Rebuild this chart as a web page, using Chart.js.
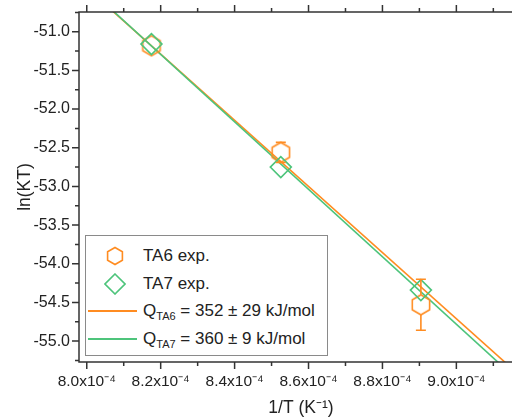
<!DOCTYPE html>
<html>
<head>
<meta charset="utf-8">
<script src="https://cdn.jsdelivr.net/npm/chart.js@4.4.0/dist/chart.umd.min.js"></script>
<style>
  body { margin: 0; overflow: hidden; background: #fff; font-family: "Liberation Sans", Arial, sans-serif; }
  #wrap { position: relative; width: 512px; height: 419px; overflow: hidden; }
  #arrhenius { position: absolute; left: 0; top: 0; }
  #legend { position: absolute; left: 85px; top: 235px; width: 241px; height: 119px;
            border: 1px solid #8a8a8a; background: #fff; color: #222; font-size: 17px; }
  .row { position: absolute; left: 0; height: 24px; line-height: 24px; white-space: nowrap; }
  .row .sym { position: absolute; left: 19px; top: 2px; width: 20px; height: 20px; }
  .row .ln { position: absolute; left: 2px; top: 11px; width: 49px; height: 2px; }
  .row .txt { position: absolute; left: 57px; top: 0; }
  sub { font-size: 11px; vertical-align: -4px; line-height: 0; }
</style>
</head>
<body>
<div id="wrap">
  <canvas id="arrhenius" width="535" height="419"></canvas>
  <div id="legend">
    <div class="row" style="top:8px">
      <svg class="sym" viewBox="0 0 20 20"><polygon points="10,1.5 17.4,5.75 17.4,14.25 10,18.5 2.6,14.25 2.6,5.75" fill="none" stroke="#ff8c21" stroke-width="1.6"/></svg>
      <span class="txt">TA6 exp.</span>
    </div>
    <div class="row" style="top:36px">
      <svg class="sym" viewBox="0 0 22 22" style="left:18px;width:22px;height:22px;top:1px"><polygon points="11,1 21,11 11,21 1,11" fill="none" stroke="#4dc47b" stroke-width="1.6"/></svg>
      <span class="txt">TA7 exp.</span>
    </div>
    <div class="row" style="top:63px">
      <span class="ln" style="background:#ff8c21"></span>
      <span class="txt">Q<sub>TA6</sub> = 352 ± 29 kJ/mol</span>
    </div>
    <div class="row" style="top:91px">
      <span class="ln" style="background:#4dc47b"></span>
      <span class="txt">Q<sub>TA7</sub> = 360 ± 9 kJ/mol</span>
    </div>
  </div>
</div>
<script>
// valeurs
const invT = [8.175e-4, 8.525e-4, 8.904e-4];
const lnKT_TA6 = [-51.18, -52.56, -54.53];
const errTA6 = [0.03, 0.13, 0.33];
const lnKT_TA7 = [-51.16, -52.75, -54.34];
const errTA7 = [0.03, 0.05, 0.13];

// droites d'ajustement (extrémités)
const fitX = [7.9e-4, 9.2e-4];
const fitTA6 = [-50.006, -55.566];
const fitTA7 = [-49.984, -55.654];

const orange = '#ff8c21';
const green = '#4dc47b';
const axisColor = '#333';

function hexagon(color, r) {
  const c = document.createElement('canvas');
  const s = Math.ceil(2 * r + 4);
  c.width = s; c.height = s;
  const g = c.getContext('2d');
  g.strokeStyle = color;
  g.lineWidth = 1.6;
  g.beginPath();
  for (let i = 0; i < 6; i++) {
    const a = -Math.PI / 2 + i * Math.PI / 3;
    const px = s / 2 + r * Math.cos(a), py = s / 2 + r * Math.sin(a);
    if (i) g.lineTo(px, py); else g.moveTo(px, py);
  }
  g.closePath();
  g.stroke();
  return c;
}

const toXY = (xs, ys) => xs.map((x, i) => ({ x: x, y: ys[i] }));

// barres d'erreur, à partir du bord du symbole
const errorBars = {
  id: 'errorBars',
  afterDatasetsDraw(chart) {
    const ctx = chart.ctx, xs = chart.scales.x, ys = chart.scales.y;
    const sets = [[lnKT_TA6, errTA6, orange, 10], [lnKT_TA7, errTA7, green, 10.5]];
    ctx.save();
    ctx.lineWidth = 1.6;
    sets.forEach(([vals, errs, color, r]) => {
      ctx.strokeStyle = color;
      vals.forEach((v, i) => {
        const px = xs.getPixelForValue(invT[i]);
        const cy = ys.getPixelForValue(v);
        const top = ys.getPixelForValue(v + errs[i]);
        const bot = ys.getPixelForValue(v - errs[i]);
        ctx.beginPath();
        if (top < cy - r) {
          ctx.moveTo(px, cy - r); ctx.lineTo(px, top);
          ctx.moveTo(px - 5, top); ctx.lineTo(px + 5, top);
        }
        if (bot > cy + r) {
          ctx.moveTo(px, cy + r); ctx.lineTo(px, bot);
          ctx.moveTo(px - 5, bot); ctx.lineTo(px + 5, bot);
        }
        ctx.stroke();
      });
    });
    ctx.restore();
  }
};

// cadre + graduations (majeures et mineures)
const frame = {
  id: 'frame',
  afterDraw(chart) {
    const ctx = chart.ctx, a = chart.chartArea;
    const xs = chart.scales.x, ys = chart.scales.y;
    ctx.save();
    ctx.strokeStyle = axisColor;
    ctx.lineWidth = 1.5;
    ctx.beginPath();
    ctx.moveTo(a.left, a.top); ctx.lineTo(a.left, a.bottom);
    ctx.moveTo(a.left - 0.75, a.bottom); ctx.lineTo(a.right, a.bottom);
    ctx.moveTo(a.left - 0.75, a.top); ctx.lineTo(a.right, a.top);
    ctx.moveTo(a.right, a.top); ctx.lineTo(a.right, a.bottom);

    const xMaj = xs.ticks.map(t => t.value);
    const step = xMaj[1] - xMaj[0];
    const xMin = [xMaj[0] - step / 2].concat(xMaj.map(v => v + step / 2))
      .filter(v => v > xs.min && v < xs.max);
    xMaj.forEach(v => {
      const p = xs.getPixelForValue(v);
      ctx.moveTo(p, a.bottom); ctx.lineTo(p, a.bottom + 7);
      ctx.moveTo(p, a.top); ctx.lineTo(p, a.top - 7);
    });
    xMin.forEach(v => {
      const p = xs.getPixelForValue(v);
      ctx.moveTo(p, a.bottom); ctx.lineTo(p, a.bottom + 4);
      ctx.moveTo(p, a.top); ctx.lineTo(p, a.top - 4);
    });

    const yMaj = ys.ticks.map(t => t.value);
    const ystep = yMaj[1] - yMaj[0];
    const yMin = [yMaj[0] - ystep / 2].concat(yMaj.map(v => v + ystep / 2))
      .filter(v => v > ys.min && v < ys.max);
    yMaj.forEach(v => {
      const p = ys.getPixelForValue(v);
      ctx.moveTo(a.left, p); ctx.lineTo(a.left - 7, p);
    });
    yMin.forEach(v => {
      const p = ys.getPixelForValue(v);
      ctx.moveTo(a.left, p); ctx.lineTo(a.left - 4, p);
    });
    ctx.stroke();
    ctx.restore();
  }
};

const ctx = document.getElementById('arrhenius').getContext('2d');

new Chart(ctx, {
  type: 'scatter',
  data: {
    datasets: [
      {
        type: 'line', label: 'fit TA6', data: toXY(fitX, fitTA6),
        borderColor: orange, borderWidth: 1.6, pointRadius: 0, fill: false, order: 3
      },
      {
        type: 'line', label: 'fit TA7', data: toXY(fitX, fitTA7),
        borderColor: green, borderWidth: 1.6, pointRadius: 0, fill: false, order: 2
      },
      {
        label: 'TA6 exp.', data: toXY(invT, lnKT_TA6),
        pointStyle: hexagon(orange, 10), pointRadius: 10, order: 1
      },
      {
        label: 'TA7 exp.', data: toXY(invT, lnKT_TA7),
        pointStyle: 'rectRot', pointRadius: 10.5, pointBorderWidth: 1.6,
        borderColor: green, backgroundColor: 'rgba(0,0,0,0)', order: 0
      }
    ]
  },
  options: {
    responsive: false,
    animation: false,
    layout: { padding: { top: 11, right: 5, left: 0, bottom: 0 } },
    plugins: { legend: { display: false }, tooltip: { enabled: false } },
    scales: {
      x: {
        type: 'linear',
        min: 7.979e-4,
        max: 9.18e-4,
        grid: { display: false, drawTicks: false },
        border: { display: false },
        ticks: {
          stepSize: 2e-5,
          includeBounds: false,
          maxRotation: 0, minRotation: 0,
          autoSkip: false,
          padding: 10,
          color: '#222',
          font: { family: '"Liberation Sans", Arial, sans-serif', size: 15.5 },
          callback: v => (v * 1e4).toFixed(1) + 'x10\u207B\u2074'
        },
        title: {
          display: true, text: '1/T (K\u207B\u00B9)', color: '#222',
          font: { family: '"Liberation Sans", Arial, sans-serif', size: 17.5 },
          padding: { top: 0, bottom: 0 }
        },
        afterFit: s => { s.height = 57; s.paddingLeft = 0; s.paddingRight = 0; }
      },
      y: {
        min: -55.27,
        max: -50.746,
        grid: { display: false, drawTicks: false },
        border: { display: false },
        ticks: {
          stepSize: 0.5,
          includeBounds: false,
          padding: 9,
          color: '#222',
          font: { family: '"Liberation Sans", Arial, sans-serif', size: 16 },
          callback: v => v.toFixed(1)
        },
        title: {
          display: true, text: 'ln(KT)', color: '#222',
          font: { family: '"Liberation Sans", Arial, sans-serif', size: 17.5 },
          padding: { top: 15, bottom: 0 }
        },
        afterFit: s => { s.width = 79; s.paddingTop = 0; s.paddingBottom = 0; }
      }
    }
  },
  plugins: [errorBars, frame]
});
</script>
</body>
</html>
